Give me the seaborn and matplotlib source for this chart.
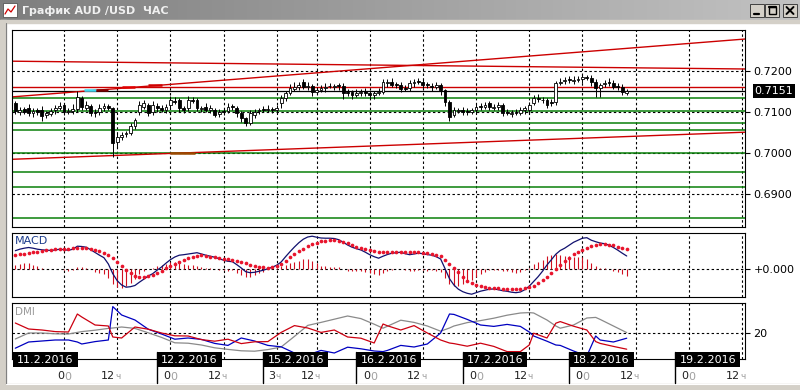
import numpy as np
import matplotlib
matplotlib.use("Agg")
import matplotlib.pyplot as plt
import matplotlib.transforms as mtransforms
from matplotlib.patches import Rectangle
from matplotlib.colors import LinearSegmentedColormap
import seaborn as sns

# hourly AUD/USD candles, bar 0 = 10.2.2016 12:00
opens = [
    0.7122, 0.7100, 0.7107, 0.7110, 0.7097, 0.7105, 0.7105, 0.7092, 0.7096, 0.7104,
    0.7110, 0.7117, 0.7100, 0.7103, 0.7107, 0.7134, 0.7110, 0.7115, 0.7101, 0.7100,
    0.7110, 0.7114, 0.7110, 0.7027, 0.7040, 0.7046, 0.7050, 0.7066, 0.7100, 0.7112,
    0.7117, 0.7100, 0.7116, 0.7110, 0.7106, 0.7117, 0.7128, 0.7129, 0.7109, 0.7110,
    0.7129, 0.7129, 0.7108, 0.7112, 0.7105, 0.7105, 0.7095, 0.7102, 0.7103, 0.7114,
    0.7110, 0.7098, 0.7085, 0.7073, 0.7093, 0.7102, 0.7107, 0.7106, 0.7108, 0.7104,
    0.7122, 0.7134, 0.7146, 0.7157, 0.7161, 0.7173, 0.7161, 0.7163, 0.7150, 0.7154,
    0.7158, 0.7164, 0.7161, 0.7165, 0.7163, 0.7150, 0.7148, 0.7142, 0.7146, 0.7151,
    0.7146, 0.7141, 0.7146, 0.7149, 0.7170, 0.7173, 0.7168, 0.7166, 0.7158, 0.7159,
    0.7170, 0.7175, 0.7173, 0.7168, 0.7164, 0.7162, 0.7166, 0.7154, 0.7124, 0.7093,
    0.7103, 0.7105, 0.7102, 0.7100, 0.7105, 0.7114, 0.7112, 0.7122, 0.7110, 0.7112,
    0.7117, 0.7100, 0.7096, 0.7100, 0.7098, 0.7104, 0.7105, 0.7122, 0.7134, 0.7130,
    0.7129, 0.7124, 0.7124, 0.7170, 0.7175, 0.7180, 0.7176, 0.7178, 0.7180, 0.7185,
    0.7183, 0.7173, 0.7159, 0.7168, 0.7173, 0.7171, 0.7163, 0.7161, 0.7147,
]
close = [
    0.7102, 0.7105, 0.7100, 0.7098, 0.7102, 0.7100, 0.7090, 0.7097, 0.7102, 0.7110,
    0.7115, 0.7100, 0.7102, 0.7108, 0.7137, 0.7112, 0.7117, 0.7098, 0.7098, 0.7110,
    0.7115, 0.7110, 0.7024, 0.7039, 0.7044, 0.7049, 0.7066, 0.7080, 0.7117, 0.7122,
    0.7098, 0.7117, 0.7110, 0.7105, 0.7112, 0.7129, 0.7124, 0.7110, 0.7105, 0.7129,
    0.7127, 0.7110, 0.7110, 0.7105, 0.7110, 0.7093, 0.7100, 0.7100, 0.7112, 0.7112,
    0.7098, 0.7085, 0.7073, 0.7098, 0.7100, 0.7105, 0.7105, 0.7108, 0.7105, 0.7110,
    0.7134, 0.7146, 0.7159, 0.7161, 0.7166, 0.7161, 0.7163, 0.7149, 0.7154, 0.7159,
    0.7161, 0.7163, 0.7163, 0.7163, 0.7146, 0.7146, 0.7141, 0.7146, 0.7149, 0.7146,
    0.7141, 0.7146, 0.7149, 0.7173, 0.7173, 0.7166, 0.7166, 0.7156, 0.7156, 0.7171,
    0.7173, 0.7173, 0.7166, 0.7166, 0.7161, 0.7166, 0.7154, 0.7124, 0.7088, 0.7105,
    0.7105, 0.7100, 0.7100, 0.7105, 0.7112, 0.7112, 0.7117, 0.7112, 0.7112, 0.7117,
    0.7098, 0.7098, 0.7098, 0.7098, 0.7105, 0.7110, 0.7117, 0.7134, 0.7132, 0.7129,
    0.7117, 0.7122, 0.7171, 0.7173, 0.7178, 0.7178, 0.7178, 0.7180, 0.7185, 0.7183,
    0.7173, 0.7159, 0.7166, 0.7171, 0.7171, 0.7161, 0.7161, 0.7149, 0.7151,
]
# wick lengths beyond the body, in pips
wick_up = [
    6, 8, 5, 9, 7, 6, 10, 5, 8, 7,
    9, 6, 8, 12, 15, 6, 9, 5, 7, 10,
    6, 5, 2, 9, 7, 6, 8, 6, 9, 8,
    6, 10, 5, 8, 7, 9, 8, 5, 7, 10,
    8, 6, 5, 9, 7, 6, 8, 7, 10, 5,
    6, 5, 3, 7, 8, 6, 7, 9, 5, 7,
    8, 6, 9, 12, 8, 7, 10, 5, 8, 7,
    9, 8, 6, 7, 8, 7, 5, 10, 7, 8,
    6, 5, 9, 8, 7, 10, 5, 8, 7, 6,
    8, 7, 9, 5, 8, 7, 6, 3, 5, 8,
    5, 7, 8, 6, 10, 7, 8, 5, 7, 8,
    5, 7, 6, 8, 7, 5, 8, 7, 10, 6,
    5, 8, 4, 9, 8, 7, 10, 8, 7, 6,
    7, 8, 6, 7, 9, 6, 7, 8, 5,
]
wick_dn = [
    6, 8, 5, 7, 9, 6, 12, 7, 5, 8,
    6, 8, 5, 7, 6, 7, 5, 8, 10, 6,
    8, 6, 34, 14, 8, 6, 5, 8, 6, 5,
    8, 6, 9, 5, 8, 6, 5, 9, 7, 8,
    5, 7, 9, 6, 8, 5, 7, 8, 5, 6,
    9, 8, 6, 4, 8, 6, 5, 7, 8, 6,
    12, 7, 5, 6, 8, 5, 7, 9, 5, 6,
    8, 5, 7, 8, 14, 6, 9, 5, 8, 7,
    9, 8, 5, 6, 8, 5, 7, 8, 5, 7,
    8, 5, 7, 8, 9, 5, 12, 8, 10, 6,
    5, 8, 7, 5, 9, 6, 5, 8, 6, 8,
    7, 5, 8, 6, 5, 9, 7, 5, 8, 6,
    8, 7, 6, 5, 6, 8, 7, 5, 8, 6,
    10, 22, 22, 6, 8, 5, 7, 8, 5,
]

# MACD and signal, in points (1e-5)
macd = [
    18.0, 19.5, 20.5, 21.2, 20.5, 19.5, 18.9, 18.5, 18.3, 18.7,
    19.5, 19.0, 18.4, 19.5, 22.5, 22.2, 21.5, 19.0, 16.2, 13.5,
    11.0, 4.7, -5.0, -12.0, -16.3, -18.5, -18.0, -16.8, -13.5, -10.5,
    -7.3, -5.0, -1.5, 1.7, 5.5, 9.0, 11.7, 13.5, 14.0, 14.7,
    15.5, 16.0, 14.7, 13.5, 12.5, 11.5, 10.0, 8.5, 7.4, 7.0,
    4.0, 0.7, -3.0, -4.0, -3.6, -2.5, -1.5, 0.0, 1.5, 3.5,
    6.7, 12.0, 17.0, 21.7, 26.0, 29.5, 31.7, 32.5, 31.5, 30.7,
    30.5, 30.5, 30.2, 29.0, 26.5, 23.7, 21.5, 20.0, 18.7, 16.5,
    14.0, 12.0, 10.5, 12.5, 14.2, 15.5, 16.0, 16.5, 15.0, 14.0,
    14.7, 15.5, 15.0, 14.1, 13.5, 12.0, 9.7, 0.0, -10.0, -16.3,
    -20.5, -23.0, -24.6, -25.5, -24.0, -22.5, -21.5, -20.5, -20.3, -21.0,
    -22.0, -22.6, -23.5, -24.0, -23.3, -21.0, -17.5, -12.8, -8.0, -2.5,
    3.7, 9.0, 14.5, 18.2, 20.5, 23.5, 26.4, 28.5, 30.5, 31.0,
    28.5, 27.0, 25.7, 25.0, 23.5, 21.2, 18.5, 15.5, 12.7,
]
signal = [
    14.0, 14.5, 15.2, 15.9, 16.5, 17.1, 17.7, 18.3, 18.9, 19.4,
    19.7, 20.0, 20.2, 20.4, 20.6, 20.7, 20.3, 19.7, 19.0, 17.8,
    16.2, 14.2, 10.5, 6.5, 2.7, -1.0, -4.2, -6.8, -7.8, -7.9,
    -7.5, -5.8, -3.8, -1.8, 0.5, 2.7, 4.8, 6.9, 8.9, 10.7,
    12.0, 12.9, 13.3, 12.7, 12.1, 11.5, 10.8, 10.0, 9.3, 8.6,
    7.9, 7.2, 5.7, 4.2, 2.7, 2.0, 1.3, 0.7, 1.5, 2.8,
    4.4, 7.8, 11.5, 15.2, 17.8, 20.2, 22.4, 24.3, 26.0, 27.6,
    28.1, 28.4, 28.6, 27.7, 26.6, 25.5, 23.8, 22.1, 20.5, 19.4,
    18.4, 17.5, 17.1, 16.9, 16.7, 16.7, 16.7, 16.7, 16.7, 16.7,
    16.7, 16.5, 16.2, 16.0, 15.2, 14.2, 13.2, 9.2, 5.2, 1.2,
    -3.5, -7.9, -12.0, -14.2, -16.1, -17.7, -18.3, -18.8, -19.3, -19.6,
    -19.8, -20.0, -20.1, -20.2, -20.3, -19.5, -18.5, -17.3, -14.5, -11.5,
    -8.6, -4.4, -0.2, 4.1, 7.6, 11.2, 14.7, 17.0, 19.2, 21.2,
    22.5, 23.8, 24.7, 24.3, 23.8, 23.3, 22.1, 20.9, 19.7,
]

# DMI readings
dmi_bars = [0, 3, 6, 9, 12, 14, 15, 18, 21, 22, 24, 27, 30, 33, 36, 39, 42, 45,
            48, 51, 54, 57, 60, 63, 66, 69, 72, 75, 78, 81, 83, 84, 87, 90, 93,
            96, 98, 99, 102, 105, 108, 111, 114, 116, 117, 120, 122, 123, 126,
            129, 131, 132, 135, 138]
dmi_plus = [25.0, 22.0, 21.5, 20.7, 20.5, 29.5, 28.0, 24.0, 23.5, 18.0,
            17.5, 23.0, 21.9, 20.0, 18.6, 18.5, 16.7, 15.9, 16.9, 14.7,
            15.6, 15.7, 20.3, 23.7, 22.5, 20.3, 21.5, 18.0, 17.4, 15.0,
            24.5, 23.6, 21.5, 23.7, 20.0, 16.5, 15.0, 14.7, 13.4, 14.9,
            13.3, 10.7, 10.7, 14.0, 19.9, 17.5, 24.9, 25.7, 23.4, 21.5,
            15.7, 14.8, 13.3, 11.9]
dmi_minus = [12.4, 15.5, 16.0, 16.5, 16.5, 15.5, 14.5, 15.7, 16.5, 33.2,
             29.0, 26.5, 21.9, 19.5, 16.9, 17.5, 16.8, 14.8, 13.8, 17.5,
             16.0, 13.8, 13.1, 10.0, 9.0, 11.3, 10.0, 12.9, 12.1, 11.0,
             10.7, 11.3, 13.8, 13.0, 14.5, 20.0, 29.5, 29.3, 26.8, 24.0,
             23.3, 24.3, 23.3, 20.5, 18.5, 15.9, 14.0, 13.8, 11.0, 8.5,
             18.5, 16.5, 15.5, 17.4]
adx = [17.0, 20.0, 20.0, 19.6, 19.5, 20.3, 20.7, 21.4, 22.3, 22.5,
       23.0, 22.3, 20.1, 17.8, 15.1, 14.9, 14.0, 12.6, 11.8, 11.1,
       10.9, 11.7, 13.0, 18.3, 23.8, 25.3, 26.9, 28.5, 27.2, 24.4,
       22.4, 23.4, 26.4, 25.3, 23.5, 20.9, 22.5, 23.5, 25.2, 26.2,
       27.4, 28.9, 30.0, 30.2, 30.0, 26.5, 23.5, 22.4, 24.0, 27.5,
       27.8, 26.8, 23.5, 20.2]

# drawn levels and trend lines
green_levels = [0.7134, 0.7102, 0.7073, 0.7056, 0.7001, 0.6954, 0.6917, 0.6841]
red_level = 0.7161
trend_bars = [-0.75, 164.7]
trend_top = [0.7224, 0.7205]
trend_up = [0.7137, 0.7278]
trend_low = [0.6985, 0.7051]
seg_bars = [(15.5, 18.2), (18.2, 20.9), (24.1, 27.0), (30.0, 33.1), (34.9, 40.6)]
seg_price = [0.7153, 0.7154, 0.7162, 0.7166, 0.7001]
seg_color = ['#3fd8f0', '#7a0000', '#e00000', '#d00000', '#9a4a00']

grid_bars = [11, 23, 35, 47, 59, 68, 80, 92, 104, 116, 128, 140, 152, 164]
time_main = ['0', '12', '0', '12', '3', '12', '0', '12', '0', '12', '0', '12', '0', '12']
time_tail = ['0', 'ч', '0', 'ч', 'ч', 'ч', '0', 'ч', '0', 'ч', '0', 'ч', '0', 'ч']
date_labels = ['11.2.2016', '12.2.2016', '15.2.2016', '16.2.2016',
               '17.2.2016', '18.2.2016', '19.2.2016']
date_bars = [-0.5, 32, 56, 77, 101, 125, 149]
price_ticks = [0.7200, 0.7100, 0.7000, 0.6900]

sns.set_style("white")
plt.rcParams['font.family'] = ['DejaVu Sans']

fig = plt.figure(figsize=(8, 3.9), dpi=100)
fig.patch.set_facecolor('white')

# window chrome in pixel coordinates
bg = fig.add_axes([0, 0, 1, 1], zorder=0)
bg.set_xlim(0, 800)
bg.set_ylim(390, 0)
bg.axis('off')
title_cmap = LinearSegmentedColormap.from_list('title', ['#7e7e7e', '#c2c2c2'])
bg.imshow(np.linspace(0, 1, 256)[None, :], extent=(0, 800, 20, 0),
          cmap=title_cmap, aspect='auto')
bg.add_patch(Rectangle((0, 20), 800, 3, color='#d4d0c8'))
bg.add_patch(Rectangle((0, 20), 6, 370, color='#d4d0c8'))
bg.add_patch(Rectangle((0, 384), 800, 6, color='#d4d0c8'))
bg.plot([6, 6], [23, 384], color='#808080', lw=0.8)
bg.plot([6, 800], [384, 384], color='#ffffff', lw=0.8)
bg.add_patch(Rectangle((3, 3), 14, 14, facecolor='white', edgecolor='#555555', lw=0.6))
bg.plot([5, 8, 11, 15], [14, 9, 12, 6], color='#d00000', lw=0.9)
bg.text(22, 10.5, 'График AUD /USD  ЧАС', color='#f0f0f0', fontsize=8,
        fontweight='bold', va='center', ha='left')
for bx in [750, 765, 783]:
    bg.add_patch(Rectangle((bx, 4), 14, 13, facecolor='#d4d0c8',
                           edgecolor='#404040', lw=0.7))
bg.plot([754, 759], [14, 14], color='black', lw=1.6)
bg.add_patch(Rectangle((768.5, 6.5), 7, 7.5, facecolor='none', edgecolor='black', lw=1.0))
bg.plot([768.5, 775.5], [7, 7], color='black', lw=1.6)
bg.plot([786.5, 793.5], [7, 14], color='black', lw=1.4)
bg.plot([786.5, 793.5], [14, 7], color='black', lw=1.4)
bg.set_xlim(0, 800)
bg.set_ylim(390, 0)


def style_panel(ax):
    ax.set_facecolor('white')
    for s in ax.spines.values():
        s.set_color('black')
        s.set_linewidth(0.8)
    ax.set_xticks([])
    ax.yaxis.tick_right()
    ax.tick_params(axis='y', right=True, left=False, labelright=True, labelleft=False,
                   length=3.5, width=0.8, pad=2.5, labelsize=8, colors='black')
    for b in grid_bars:
        ax.axvline(b, color='black', lw=0.8, ls=(0, (2.2, 2.2)), zorder=1)
    ax.set_xlim(-0.75, 164.7)


dash = (0, (2.2, 2.2))

# main price panel
ax = fig.add_axes([12 / 800, 1 - 227 / 390, 733 / 800, 197 / 390], zorder=1)
style_panel(ax)
for p in price_ticks:
    ax.axhline(p, color='black', lw=0.8, ls=dash, zorder=1)
for g in green_levels:
    ax.axhline(g, color='#0a800a', lw=1.1, zorder=2)
ax.axhline(red_level, color='#cc0000', lw=1.0, zorder=2)
ax.axhline(close[-1], color='black', lw=0.9, zorder=2)
for tl in [trend_top, trend_up, trend_low]:
    sns.lineplot(x=trend_bars, y=tl, ax=ax, color='#cc0000', lw=1.0, zorder=2)
for (b0, b1), sp, sc in zip(seg_bars, seg_price, seg_color):
    ax.plot([b0, b1], [sp, sp], color=sc, lw=1.8, zorder=2, solid_capstyle='butt')

bars = np.arange(len(close))
o = np.array(opens)
c = np.array(close)
body_lo = np.minimum(o, c)
body_hi = np.maximum(o, c)
highs = body_hi + np.array(wick_up) * 1e-4
lows = body_lo - np.array(wick_dn) * 1e-4
ax.vlines(bars, lows, highs, color='black', lw=0.7, zorder=3)
heights = np.maximum(body_hi - body_lo, 0.00006)
faces = ['white' if cc >= oo else 'black' for oo, cc in zip(o, c)]
ax.bar(bars, heights, bottom=body_lo, width=0.64, color=faces,
       edgecolor='black', linewidth=0.6, zorder=4)
ax.set_ylim(0.6820, 0.7300)
ax.set_yticks(price_ticks)
ax.set_yticklabels([f'{p:.4f}' for p in price_ticks])
ax.annotate(f'{close[-1]:.4f}', xy=(1, close[-1]),
            xycoords=mtransforms.blended_transform_factory(ax.transAxes, ax.transData),
            xytext=(7, 0), textcoords='offset points', va='center', ha='left',
            fontsize=8, color='white', annotation_clip=False,
            bbox=dict(boxstyle='square,pad=0.15', facecolor='black', edgecolor='none'))
ax.set_xlim(-0.75, 164.7)

# MACD panel
ax2 = fig.add_axes([12 / 800, 1 - 297 / 390, 733 / 800, 64 / 390], zorder=1)
style_panel(ax2)
ax2.axhline(0, color='black', lw=0.8, ls=dash, zorder=1)
hist = np.array(macd) - np.array(signal)
ax2.vlines(bars, 0, hist, color='#d01020', lw=0.8, zorder=2)
sns.lineplot(x=bars, y=macd, ax=ax2, color='#10106e', lw=0.9, zorder=3)
sns.scatterplot(x=bars, y=signal, ax=ax2, color='#e8142c', s=7, linewidth=0,
                zorder=4, legend=False)
ax2.set_ylim(-28.3, 35.7)
ax2.set_yticks([0])
ax2.set_yticklabels(['+0.000'])
ax2.set_ylabel('')
ax2.text(0.004, 0.96, 'MACD', transform=ax2.transAxes, va='top', ha='left',
         fontsize=8, color='#1c3c8c')
ax2.set_xlim(-0.75, 164.7)

# DMI panel
ax3 = fig.add_axes([12 / 800, 1 - 359 / 390, 733 / 800, 56 / 390], zorder=1)
style_panel(ax3)
ax3.axhline(20, color='black', lw=0.8, ls=dash, zorder=1)
sns.lineplot(x=dmi_bars, y=adx, ax=ax3, color='#8a8a8a', lw=0.9, zorder=2)
sns.lineplot(x=dmi_bars, y=dmi_minus, ax=ax3, color='#0000c0', lw=0.9, zorder=3)
sns.lineplot(x=dmi_bars, y=dmi_plus, ax=ax3, color='#cc0010', lw=0.9, zorder=3)
ax3.set_ylim(7, 35)
ax3.set_yticks([20])
ax3.set_yticklabels(['20'])
ax3.set_ylabel('')
ax3.text(0.004, 0.93, 'DMI', transform=ax3.transAxes, va='top', ha='left',
         fontsize=7.5, color='#9a9a9a')
ax3.set_xlim(-0.75, 164.7)

# date boxes and time labels over the bottom panel
top = fig.add_axes([0, 0, 1, 1], zorder=5)
top.set_xlim(0, 800)
top.set_ylim(390, 0)
top.axis('off')
top.set_autoscale_on(False)
tr = mtransforms.blended_transform_factory(ax3.transData, top.transData)
for i, (db, dl) in enumerate(zip(date_bars, date_labels)):
    top.add_patch(Rectangle((db, 352), 14.6, 15, transform=tr, facecolor='black',
                            edgecolor='none', clip_on=False))
    top.text(db + 7.3, 359.8, dl, transform=tr, color='white', fontsize=8,
             ha='center', va='center')
    if i > 0:
        top.plot([db, db], [352, 383], transform=tr, color='black', lw=1.0)
for gb, tm, tt in zip(grid_bars, time_main, time_tail):
    shift = 0 if tt == '0' else -0.4
    top.text(gb + shift, 376, tm, transform=tr, color='#202020', fontsize=8,
             ha='right', va='center')
    top.text(gb + shift, 376.5, tt, transform=tr, color='#a0a0a0',
             fontsize=8 if tt == '0' else 6.5, ha='left', va='center')

fig.savefig('out.png', dpi=100)
